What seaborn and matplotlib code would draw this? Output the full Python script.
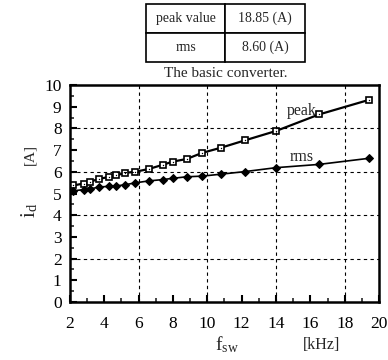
import matplotlib
matplotlib.use("Agg")
import matplotlib.pyplot as plt
from matplotlib.ticker import MultipleLocator
import seaborn as sns
import pandas as pd

fsw = [2.2, 2.8, 3.2, 3.7, 4.3, 4.7, 5.2, 5.8, 6.6, 7.4, 8.0, 8.8, 9.7, 10.8, 12.2, 14.0, 16.5, 19.4]
peak = [5.37, 5.46, 5.55, 5.67, 5.77, 5.83, 5.95, 6.0, 6.13, 6.32, 6.47, 6.59, 6.87, 7.11, 7.45, 7.88, 8.64, 9.31]
rms = [5.12, 5.18, 5.21, 5.3, 5.33, 5.35, 5.4, 5.49, 5.58, 5.64, 5.7, 5.77, 5.8, 5.89, 6.01, 6.19, 6.34, 6.62]
table_rows = [["peak value", "18.85 (A)"], ["rms", "8.60 (A)"]]
caption = "The basic converter."

sns.set_theme(style="ticks")
plt.rcParams['font.family'] = ['Liberation Serif', 'DejaVu Serif']
plt.rcParams['mathtext.fontset'] = 'stix'

df = pd.DataFrame({"fsw": fsw, "peak": peak, "rms": rms})

fig = plt.figure(figsize=(3.88, 3.6), dpi=100)
ax = fig.add_axes([0.180, 0.161, 0.797, 0.603])

sns.lineplot(data=df, x="fsw", y="peak", ax=ax, color="black", lw=1.6,
             marker="s", markersize=4.8, markerfacecolor="white",
             markeredgecolor="black", markeredgewidth=1.2)
sns.lineplot(data=df, x="fsw", y="peak", ax=ax, color="black", lw=0,
             marker=".", markersize=2, markeredgewidth=0)
sns.lineplot(data=df, x="fsw", y="rms", ax=ax, color="black", lw=1.2,
             marker="D", markersize=4.0, markerfacecolor="black",
             markeredgecolor="black")

ax.set_xlim(2, 20)
ax.set_ylim(0, 10)
ax.xaxis.set_major_locator(MultipleLocator(2))
ax.xaxis.set_minor_locator(MultipleLocator(1))
ax.yaxis.set_major_locator(MultipleLocator(1))
ax.yaxis.set_minor_locator(MultipleLocator(0.5))
ax.tick_params(which="major", direction="in", length=5, width=1.5, labelsize=12.5,
               colors="black")
ax.tick_params(axis="x", which="major", pad=10)
ax.tick_params(axis="y", which="major", pad=6)
ax.tick_params(which="minor", direction="in", length=3, width=1.2)
for s in ax.spines.values():
    s.set_linewidth(1.8)
    s.set_color("black")
    s.set_visible(True)

for xv in [6, 10, 14, 18]:
    ax.axvline(xv, color="black", lw=0.8, ls=(0, (3, 3)))
for yv in [2, 4, 6, 8]:
    ax.axhline(yv, color="black", lw=0.8, ls=(0, (3, 3)))

ax.set_xlabel("")
ax.set_ylabel("")
ax.text(14.6, 8.8, "peak", fontsize=11.5, ha="left", va="center")
ax.text(14.8, 6.7, "rms", fontsize=11.5, ha="left", va="center")

fig.text(0.078, 0.415, r"i$_\mathregular{d}$", rotation=90, fontsize=15, ha="center", va="center")
fig.text(0.078, 0.57, "[A]", rotation=90, fontsize=11, ha="center", va="center")
fig.text(0.585, 0.042, r"f$_\mathregular{sw}$", fontsize=14, ha="center", va="center")
fig.text(0.83, 0.042, "[kHz]", fontsize=11.5, ha="center", va="center")

tab = fig.add_axes([0.376, 0.828, 0.41, 0.16])
tab.axis("off")
t = tab.table(cellText=table_rows, cellLoc="center", bbox=[0, 0, 1, 1],
              colWidths=[0.5, 0.5])
t.auto_set_font_size(False)
for (r, c), cell in t.get_celld().items():
    cell.set_linewidth(1.2)
    cell.set_edgecolor("black")
    cell.get_text().set_fontsize(10)
fig.text(0.582, 0.797, caption, fontsize=11, ha="center", va="center")

fig.savefig("out.png", dpi=100)
